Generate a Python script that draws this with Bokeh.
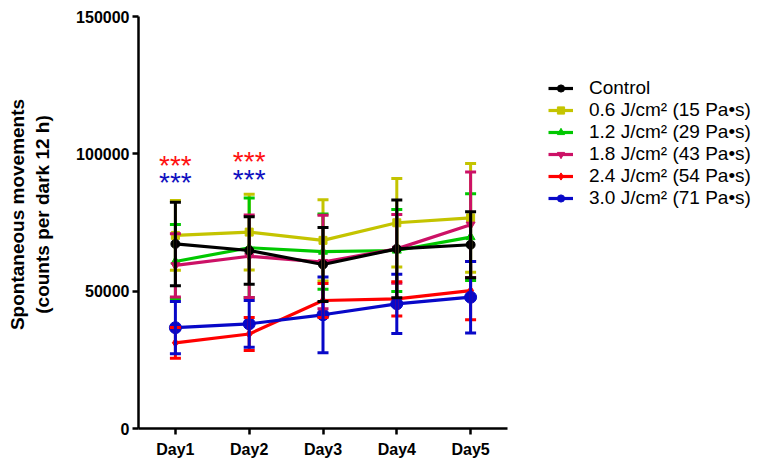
from bokeh.plotting import figure
from bokeh.models import (ColumnDataSource, Range1d, FixedTicker,
                          NumeralTickFormatter, Whisker, TeeHead, Legend, LegendItem)
from bokeh.core.properties import value
from bokeh.embed import file_html
from bokeh.resources import INLINE

days = ["Day1", "Day2", "Day3", "Day4", "Day5"]

labels = ["Control", "0.6 J/cm\u00b2 (15 Pa\u2022s)", "1.2 J/cm\u00b2 (29 Pa\u2022s)",
          "1.8 J/cm\u00b2 (43 Pa\u2022s)", "2.4 J/cm\u00b2 (54 Pa\u2022s)", "3.0 J/cm\u00b2 (71 Pa\u2022s)"]

control_mean = [67200, 64800, 59700, 65400, 66900]
control_err = [15200, 12300, 13500, 17800, 12000]
j06_mean = [70300, 71500, 68500, 74900, 76700]
j06_err = [12700, 13800, 14800, 16100, 19800]
j12_mean = [60800, 65800, 64400, 64800, 69700]
j12_err = [13500, 18100, 13700, 14900, 15800]
j18_mean = [59400, 62700, 60600, 65400, 74200]
j18_err = [11500, 15000, 17000, 12500, 19200]
j24_mean = [31200, 34400, 46600, 47200, 50200]
j24_err = [5600, 6000, 6200, 6200, 10600]
j30_mean = [36700, 38100, 41400, 45400, 47800]
j30_err = [9500, 8500, 13800, 10800, 13000]

y_ticks = [0, 50000, 100000, 150000]

star_days = [1, 1, 2, 2]
star_y = [95800, 89600, 97300, 90800]
star_colors = ["#FF1010", "#1010C0", "#FF1010", "#1010C0"]

colors = ["#000000", "#C4C400", "#00C800", "#CC1166", "#FF0000", "#0808C8"]
markers = ["circle", "square", "triangle", "inverted_triangle", "diamond", "circle"]
msizes = [9, 8, 9, 9, 9, 12]
means = [control_mean, j06_mean, j12_mean, j18_mean, j24_mean, j30_mean]
errs = [control_err, j06_err, j12_err, j18_err, j24_err, j30_err]

FONT = "Liberation Sans"

W, H = 765, 460
LEFT, RIGHT, TOP, BOTTOM = 138, 0, 0, 32
AXIS_W = 369   # px spanned by the 5 days
AXIS_H = 412   # px spanned by 0..150000
frame_w = W - LEFT - RIGHT
frame_h = H - TOP - BOTTOM
xpos = list(range(1, len(days) + 1))
x_end = 0.5 + len(days) * frame_w / AXIS_W
y_end = y_ticks[-1] * frame_h / AXIS_H

p = figure(width=W, height=H, x_range=Range1d(0.5, x_end),
           y_range=Range1d(0, y_end), output_backend="svg", toolbar_location=None,
           min_border_left=LEFT, min_border_right=RIGHT, min_border_top=TOP,
           min_border_bottom=BOTTOM)
p.outline_line_color = None
p.grid.visible = False
p.background_fill_color = "white"

renderers = {}
for i in [1, 2, 3, 4, 5, 0]:
    c = colors[i]
    src = ColumnDataSource(dict(x=xpos, y=means[i],
                                upper=[m + e for m, e in zip(means[i], errs[i])],
                                lower=[m - e for m, e in zip(means[i], errs[i])]))
    w = Whisker(base="x", upper="upper", lower="lower", source=src, level="glyph",
                line_color=c, line_width=3,
                upper_head=TeeHead(size=11, line_color=c, line_width=3),
                lower_head=TeeHead(size=11, line_color=c, line_width=3))
    p.add_layout(w)
    ln = p.line("x", "y", source=src, line_color=c, line_width=3.2)
    sc = p.scatter("x", "y", source=src, marker=markers[i], size=msizes[i],
                   fill_color=c, line_color=c)
    renderers[i] = [ln, sc]

stars = ColumnDataSource(dict(x=star_days, y=star_y, c=star_colors))
p.text("x", "y", text=value("***"), source=stars, text_color="c",
       text_font=value(FONT), text_font_size="28px", text_align="center",
       text_baseline="middle")

legend = Legend(items=[LegendItem(label=labels[i], renderers=renderers[i]) for i in range(6)],
                location=(410, 219), border_line_color=None, background_fill_alpha=0,
                padding=0, margin=0, spacing=0, label_height=18, glyph_height=18,
                glyph_width=25, label_standoff=16,
                label_text_font=FONT, label_text_font_size="19px", label_text_color="black")
p.add_layout(legend)

for ax in [p.xaxis[0], p.yaxis[0]]:
    ax.axis_line_width = 2.5
    ax.axis_line_color = "black"
    ax.major_tick_line_width = 2.5
    ax.major_tick_line_color = "black"
    ax.major_tick_out = 6
    ax.major_tick_in = 0
    ax.minor_tick_line_color = None
    ax.major_label_text_font = FONT
    ax.major_label_text_font_style = "bold"
    ax.major_label_text_font_size = "16px"
    ax.major_label_text_color = "black"

p.xaxis.bounds = (0.5, len(days) + 0.5)
p.xaxis.ticker = FixedTicker(ticks=xpos)
p.xaxis.major_label_overrides = {x: d for x, d in zip(xpos, days)}
p.yaxis.bounds = (y_ticks[0], y_ticks[-1])
p.yaxis.ticker = FixedTicker(ticks=y_ticks)
p.yaxis.formatter = NumeralTickFormatter(format="0")
p.yaxis.major_label_standoff = 3
p.xaxis.major_label_standoff = 6
p.yaxis.axis_label = "Spontaneous movements\n(counts per dark 12 h)"
p.yaxis.axis_label_text_font = FONT
p.yaxis.axis_label_text_font_style = "bold"
p.yaxis.axis_label_text_font_size = "19px"
p.yaxis.axis_label_text_color = "black"
p.yaxis.axis_label_standoff = 20

open("out.html", "w").write(file_html(p, INLINE))
